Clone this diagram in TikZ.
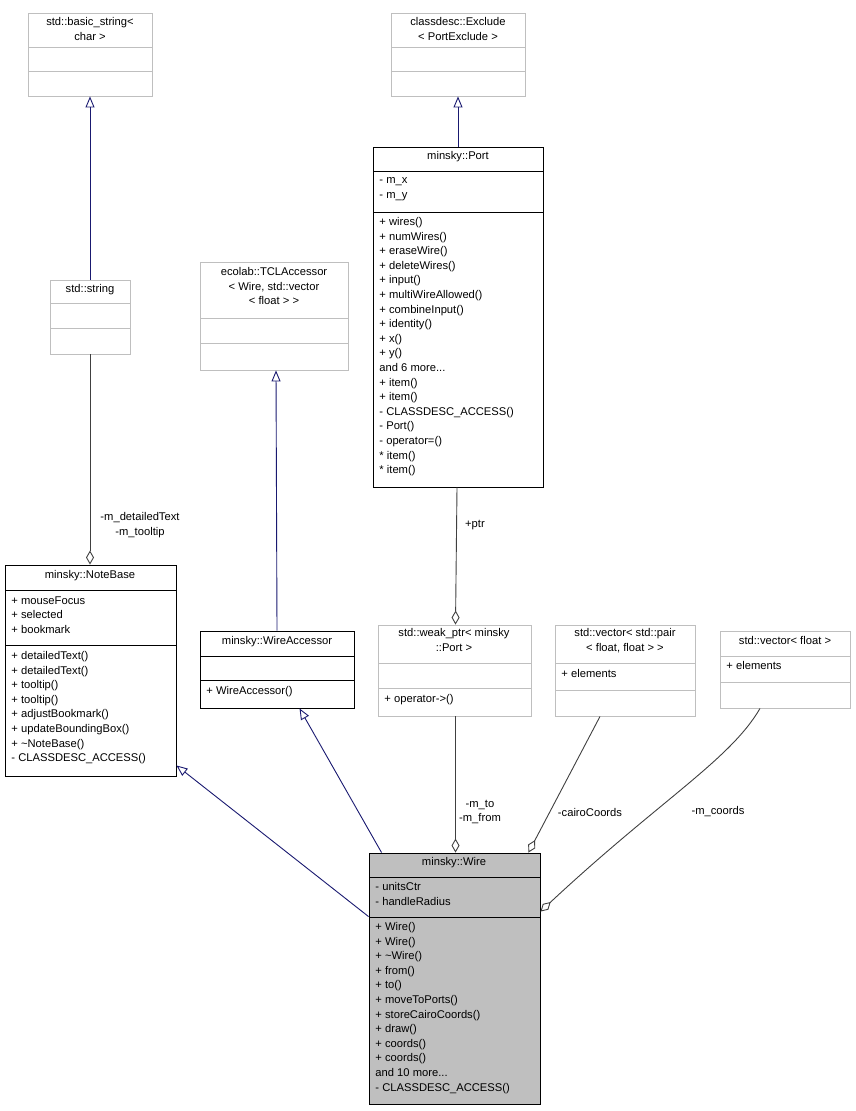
\documentclass[tikz,border=0pt]{standalone}
\usepackage{fontspec}
\setmainfont{Liberation Sans}
\usetikzlibrary{arrows.meta,fit,calc}
\definecolor{DoxyBlue}{RGB}{25,25,112}
\definecolor{DoxyGray}{RGB}{64,64,64}
\definecolor{DoxyFrame}{RGB}{191,191,191}
\definecolor{DoxyFill}{RGB}{191,191,191}
\tikzset{
  cls/.style={draw=#1,inner sep=0pt,fill=white},
  ttl/.style={anchor=north,align=center,inner sep=0pt},
  mbr/.style={anchor=north west,align=left,inner sep=0pt},
  inherit/.style={DoxyBlue,-{Triangle[open,length=11pt,width=9pt]}},
  usage/.style={DoxyGray,-{Diamond[open,length=14pt,width=8pt]}},
  lbl/.style={align=center,inner sep=0pt}
}
% box: name, x1, y1, x2, y2, sep1, sep2, frame colour
\newcommand\umlbox[8]{%
  \node[cls=#8,fit={(#2,#3) (#4,#5)}] (#1) {};
  \draw[#8] (#2,#6) -- (#4,#6);
  \draw[#8] (#2,#7) -- (#4,#7);
}
\begin{document}
\begin{tikzpicture}[x=1pt,y=-1pt,line width=0.9pt,font=\fontsize{11.2}{14.6}\selectfont]
\useasboundingbox (0,0) rectangle (856,1111);
\umlbox{bstr}{28}{13}{152}{96}{47}{71}{DoxyFrame}
\node[ttl] (bstrT) at (90,17) {std::basic\_string\textless\\char \textgreater};
\umlbox{excl}{391}{13}{525}{96}{47}{71}{DoxyFrame}
\node[ttl] (exclT) at (458,17) {classdesc::Exclude\\\textless{} PortExclude \textgreater};
\umlbox{port}{373}{147}{543}{487}{171}{212}{black}
\node[ttl] (portT) at (458,151) {minsky::Port};
\node[mbr] (portA) at (379,177) {- m\_x\\- m\_y};
\node[mbr] (portM) at (379,217) {+ wires()\\+ numWires()\\+ eraseWire()\\+ deleteWires()\\+ input()\\+ multiWireAllowed()\\+ combineInput()\\+ identity()\\+ x()\\+ y()\\and 6 more...\\+ item()\\+ item()\\- CLASSDESC\_ACCESS()\\- Port()\\- operator=()\\* item()\\* item()};
\umlbox{str}{50}{280}{130}{354}{303}{328}{DoxyFrame}
\node[ttl] (strT) at (90,284) {std::string};
\umlbox{tcl}{200}{262}{348}{370}{318}{343}{DoxyFrame}
\node[ttl] (tclT) at (274,267) {ecolab::TCLAccessor\\\textless{} Wire, std::vector\\\textless{} float \textgreater{} \textgreater};
\umlbox{note}{5}{565}{176}{776}{590}{645}{black}
\node[ttl] (noteT) at (90,570) {minsky::NoteBase};
\node[mbr] (noteA) at (11,596) {+ mouseFocus\\+ selected\\+ bookmark};
\node[mbr] (noteM) at (11,651) {+ detailedText()\\+ detailedText()\\+ tooltip()\\+ tooltip()\\+ adjustBookmark()\\+ updateBoundingBox()\\+ \textasciitilde NoteBase()\\- CLASSDESC\_ACCESS()};
\umlbox{wacc}{200}{631}{354}{708}{656}{680}{black}
\node[ttl] (waccT) at (277,636) {minsky::WireAccessor};
\node[mbr] (waccM) at (206,686) {+ WireAccessor()};
\umlbox{wptr}{378}{625}{531}{716}{663}{688}{DoxyFrame}
\node[ttl] (wptrT) at (454,628) {std::weak\_ptr\textless{} minsky\\::Port \textgreater};
\node[mbr] (wptrM) at (384,694) {+ operator-\textgreater()};
\umlbox{vpair}{555}{625}{695}{716}{663}{690}{DoxyFrame}
\node[ttl] (vpairT) at (625,628) {std::vector\textless{} std::pair\\\textless{} float, float \textgreater{} \textgreater};
\node[mbr] (vpairM) at (561,669) {+ elements};
\umlbox{vflt}{720}{631}{850}{708}{656}{682}{DoxyFrame}
\node[ttl] (vfltT) at (785,636) {std::vector\textless{} float \textgreater};
\node[mbr] (vfltM) at (726,661) {+ elements};
\node[cls=black,fill=DoxyFill,fit={(369,853) (540,1104)}] (wire) {};
\draw (369,877) -- (540,877);
\draw (369,917) -- (540,917);
\node[ttl] (wireT) at (454,857) {minsky::Wire};
\node[mbr] (wireA) at (375,882) {- unitsCtr\\- handleRadius};
\node[mbr] (wireM) at (375,922) {+ Wire()\\+ Wire()\\+ \textasciitilde Wire()\\+ from()\\+ to()\\+ moveToPorts()\\+ storeCairoCoords()\\+ draw()\\+ coords()\\+ coords()\\and 10 more...\\- CLASSDESC\_ACCESS()};
% inheritance
\draw[inherit] (str.north) -- (bstr.south);
\draw[inherit] (port.north) -- (port.north |- excl.south);
\draw[inherit] (wacc.north) -- ([xshift=2pt]tcl.south);
\draw[inherit] ($(wire.north west)+(0,64)$) -- ($(note.south east)+(0,-11)$);
\draw[inherit] ($(wire.north west)+(13,0)$) -- ($(wacc.south west)+(100,0)$);
% usage
\draw[usage] (str.south) -- (note.north -| str.south);
\node[lbl] (strL) at (140,525) {-m\_detailedText\\-m\_tooltip};
\draw[usage] ([xshift=-1pt]port.south) -- ([xshift=1pt]wptr.north);
\node[lbl] (portL) at (475,525) {+ptr};
\draw[usage] ([xshift=1pt]wptr.south) -- ([xshift=1pt]wptr.south |- wire.north);
\node[lbl] (wptrL) at (480,812) {-m\_to\\-m\_from};
\draw[usage] ([xshift=-25pt]vpair.south) -- ($(wire.north east)+(-12,0)$);
\node[lbl] (vpairL) at (590,812) {-cairoCoords};
\draw[usage] ([xshift=-25pt]vflt.south) .. controls (730,760) and (660,800) .. ($(wire.north east)+(0,59)$);
\node[lbl] (vfltL) at (718,812) {-m\_coords};
\end{tikzpicture}
\end{document}
